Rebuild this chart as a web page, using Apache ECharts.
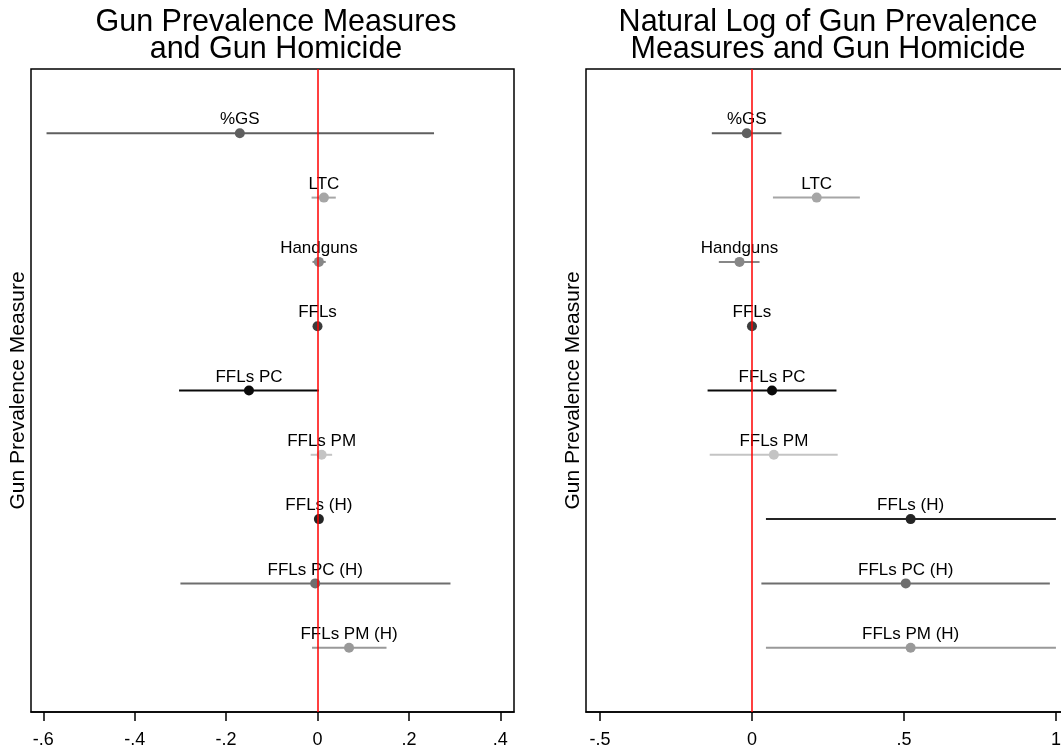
<!DOCTYPE html>
<html>
<head>
<meta charset="utf-8">
<title>Gun Prevalence Measures and Gun Homicide</title>
<script src="https://cdn.jsdelivr.net/npm/echarts@6/dist/echarts.min.js"></script>
<style>
  html, body { margin: 0; padding: 0; background: #fff; }
  #chart { width: 1061px; height: 753px; }
</style>
</head>
<body>
<div id="chart"></div>
<script>
// rows, top to bottom
var measures = ['%GS', 'LTC', 'Handguns', 'FFLs', 'FFLs PC', 'FFLs PM', 'FFLs (H)', 'FFLs PC (H)', 'FFLs PM (H)'];
var rowPos = [1, 2, 3, 4, 5, 6, 7, 8, 9];
var rowColors = ['#5f5f5f', '#a6a6a6', '#878787', '#3c3c3c', '#0a0a0a', '#c4c4c4', '#242424', '#6e6e6e', '#999999'];

// left panel: levels
var levelEst = [-0.170, 0.014, 0.003, 0.000, -0.150, 0.009, 0.003, -0.005, 0.069];
var levelLo  = [-0.593, -0.013, -0.011, -0.002, -0.303, -0.015, -0.001, -0.300, -0.012];
var levelHi  = [0.255, 0.040, 0.018, 0.002, 0.003, 0.032, 0.006, 0.291, 0.151];
var levelTicks = [-0.6, -0.4, -0.2, 0, 0.2, 0.4];

// right panel: natural logs
var logEst = [-0.017, 0.213, -0.041, 0.000, 0.066, 0.072, 0.522, 0.506, 0.522];
var logLo  = [-0.132, 0.069, -0.109, -0.002, -0.146, -0.139, 0.046, 0.031, 0.046];
var logHi  = [0.097, 0.355, 0.025, 0.002, 0.278, 0.282, 1.000, 0.980, 1.000];
var logTicks = [-0.5, 0, 0.5, 1];

var chart = echarts.init(document.getElementById('chart'));

// stata style tick labels: .2 , -.4
function stataNum(v) {
  var s = String(+(+v).toFixed(3));
  return s.replace(/^(-?)0\./, '$1.');
}

function ciItem(params, api) {
  var a = api.coord([api.value(0), api.value(2)]);
  var b = api.coord([api.value(1), api.value(2)]);
  return {
    type: 'line',
    shape: { x1: a[0], y1: a[1], x2: b[0], y2: b[1] },
    style: { stroke: rowColors[params.dataIndex], lineWidth: 2 }
  };
}

function panelSeries(idx, est, lo, hi) {
  var ci = [], pts = [];
  for (var i = 0; i < measures.length; i++) {
    ci.push([lo[i], hi[i], rowPos[i]]);
    pts.push({ value: [est[i], rowPos[i]], itemStyle: { color: rowColors[i], opacity: 1 } });
  }
  return [{
    type: 'custom',
    xAxisIndex: idx, yAxisIndex: idx,
    renderItem: ciItem,
    encode: { x: [0, 1], y: 2 },
    data: ci,
    z: 2
  }, {
    type: 'scatter',
    xAxisIndex: idx, yAxisIndex: idx,
    symbol: 'circle',
    symbolSize: 10,
    itemStyle: { opacity: 1 },
    data: pts,
    label: {
      show: true,
      position: 'top',
      distance: 0,
      color: '#000',
      fontSize: 17,
      formatter: function (p) { return measures[p.dataIndex]; }
    },
    markLine: {
      silent: true,
      symbol: 'none',
      label: { show: false },
      lineStyle: { color: '#ff0000', width: 1.5, type: 'solid' },
      data: [{ xAxis: 0 }]
    },
    z: 3
  }];
}

function xAxisFor(idx, min, max, ticks) {
  return {
    type: 'value', gridIndex: idx, min: min, max: max,
    axisLine: { show: true, onZero: false, lineStyle: { color: '#000', width: 1.5 } },
    axisTick: { show: true, length: 9, customValues: ticks, lineStyle: { color: '#000', width: 1.5 } },
    axisLabel: { customValues: ticks, fontSize: 18, color: '#000', margin: 19, formatter: stataNum },
    splitLine: { show: false }
  };
}

function yAxisFor(idx) {
  return {
    type: 'value', gridIndex: idx, min: 0, max: 10, inverse: true,
    axisLine: { show: false }, axisTick: { show: false }, axisLabel: { show: false },
    splitLine: { show: false },
    name: 'Gun Prevalence Measure',
    nameLocation: 'middle',
    nameGap: 2,
    nameTextStyle: { fontSize: 21, color: '#000' }
  };
}

var option = {
  animation: false,
  backgroundColor: '#fff',
  textStyle: { fontFamily: 'Liberation Sans, Arial, sans-serif' },
  title: [{
    text: 'Gun Prevalence Measures\nand Gun Homicide',
    left: 271, top: 4, textAlign: 'center',
    textStyle: { fontSize: 30.5, fontWeight: 'normal', color: '#000', lineHeight: 27 }
  }, {
    text: 'Natural Log of Gun Prevalence\nMeasures and Gun Homicide',
    left: 823, top: 4, textAlign: 'center',
    textStyle: { fontSize: 30.5, fontWeight: 'normal', color: '#000', lineHeight: 27 }
  }],
  grid: [
    { left: 31, top: 69, width: 483, height: 643, outerBoundsMode: 'none', show: true, borderColor: '#000', borderWidth: 1.5 },
    { left: 586, top: 69, width: 483, height: 643, outerBoundsMode: 'none', show: true, borderColor: '#000', borderWidth: 1.5 }
  ],
  xAxis: [xAxisFor(0, -0.627, 0.43, levelTicks), xAxisFor(1, -0.546, 1.043, logTicks)],
  yAxis: [yAxisFor(0), yAxisFor(1)],
  series: panelSeries(0, levelEst, levelLo, levelHi).concat(panelSeries(1, logEst, logLo, logHi))
};

chart.setOption(option);
</script>
</body>
</html>
